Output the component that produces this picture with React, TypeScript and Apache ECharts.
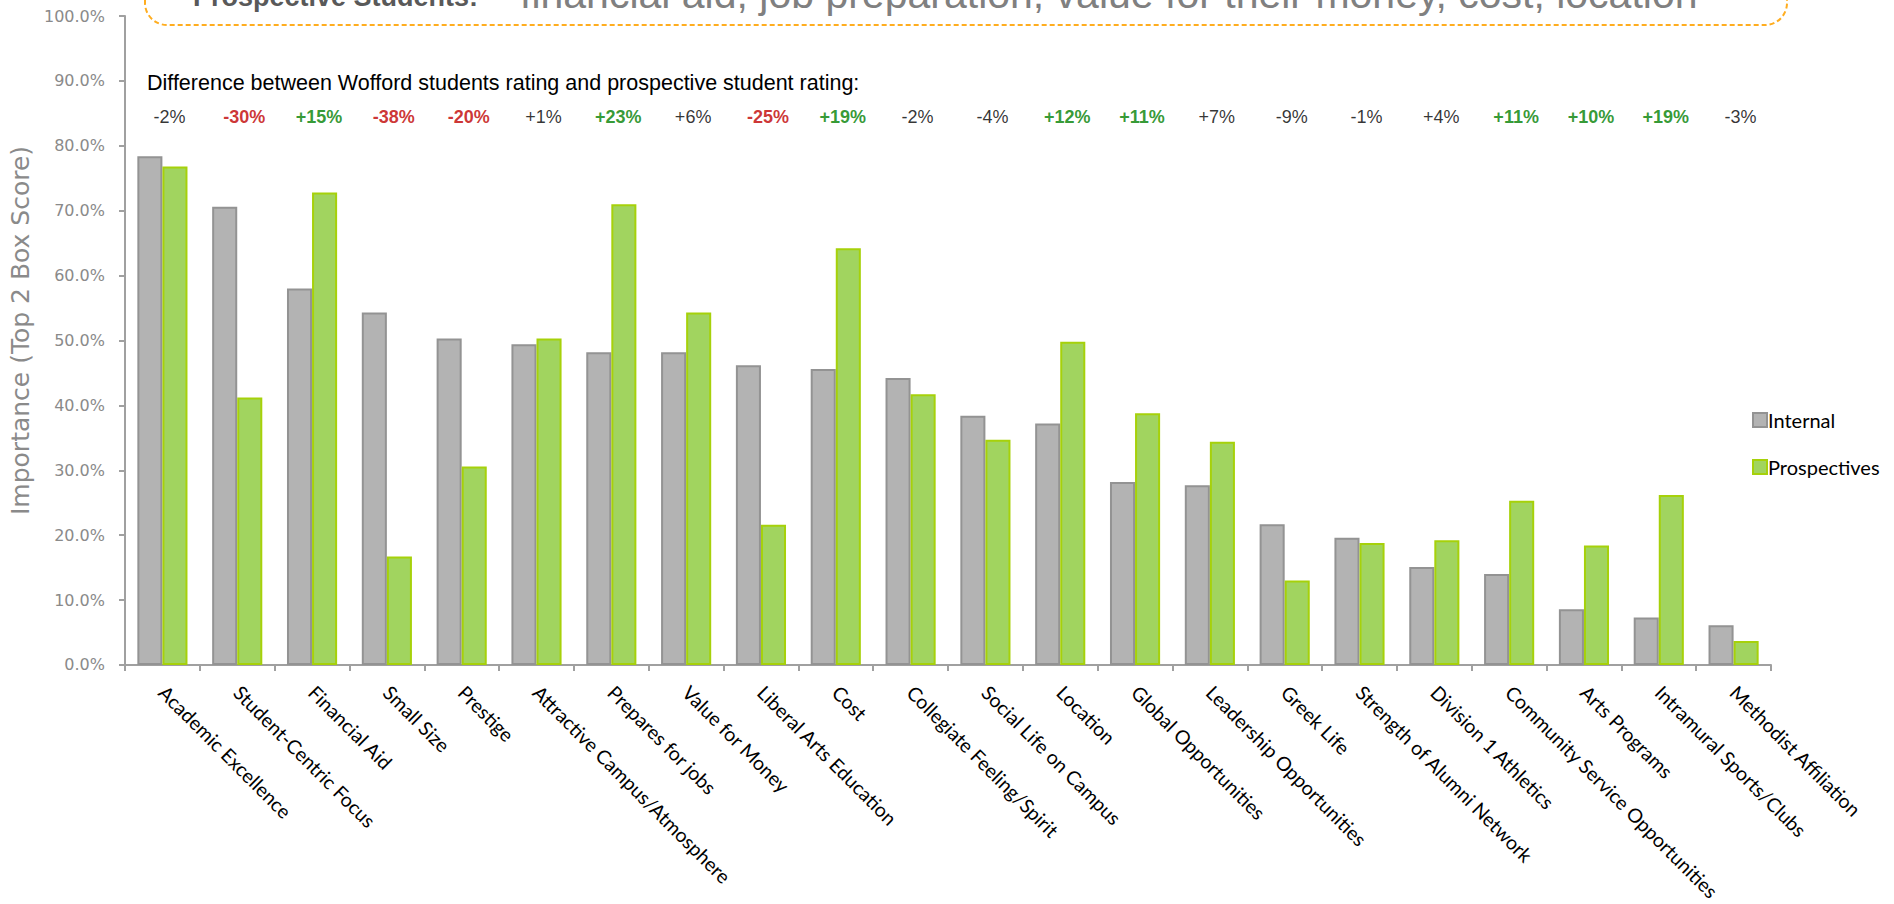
import { useEffect, useRef } from "react";
import * as echarts from "echarts";

const categories = [
  "Academic Excellence",
  "Student-Centric Focus",
  "Financial Aid",
  "Small Size",
  "Prestige",
  "Attractive Campus/Atmosphere",
  "Prepares for jobs",
  "Value for Money",
  "Liberal Arts Education",
  "Cost",
  "Collegiate Feeling/Spirit",
  "Social Life on Campus",
  "Location",
  "Global Opportunities",
  "Leadership Opportunities",
  "Greek Life",
  "Strength of Alumni Network",
  "Division 1 Athletics",
  "Community Service Opportunities",
  "Arts Programs",
  "Intramural Sports/Clubs",
  "Methodist Affiliation",
];

const internal = [
  78.4, 70.6, 58.0, 54.3, 50.3, 49.4, 48.2, 48.2, 46.2, 45.6, 44.2, 38.4, 37.2,
  28.2, 27.7, 21.7, 19.6, 15.1, 14.0, 8.6, 7.3, 6.1,
];

const prospectives = [
  76.8, 41.2, 72.8, 16.7, 30.6, 50.3, 71.0, 54.3, 21.6, 64.2, 41.7, 34.7, 49.8,
  38.8, 34.4, 13.0, 18.8, 19.2, 25.3, 18.4, 26.2, 3.7,
];

const differences = [
  -2, -30, 15, -38, -20, 1, 23, 6, -25, 19, -2, -4, 12, 11, 7, -9, -1, 4, 11, 10,
  19, -3,
];

const seriesNames = ["Internal", "Prospectives"];
const titleBold = "Prospective Students:";
const titleRest = "financial aid, job preparation, value for their money, cost, location";
const diffHeading =
  "Difference between Wofford students rating and prospective student rating:";

const DIFF_ROW = 84.5;

export default function App() {
  const ref = useRef<HTMLDivElement>(null);

  useEffect(() => {
    const chart = echarts.init(ref.current!, null, { renderer: "svg" });
    const narrow = "'Liberation Sans Narrow', 'Arial Narrow', 'Liberation Sans', Arial, sans-serif";
    chart.setOption({
      animation: false,
      backgroundColor: "#ffffff",
      grid: { left: 113, right: 123, top: 16, bottom: 235, containLabel: false },
      legend: {
        data: seriesNames,
        orient: "vertical",
        left: 1747,
        top: 405,
        itemWidth: 14,
        itemHeight: 14,
        itemGap: 27,
        icon: "rect",
        textStyle: { fontFamily: "Lato", fontSize: 20, color: "#000", padding: [0, 0, 0, -4] },
      },
      xAxis: {
        type: "category",
        data: categories,
        axisLine: { show: true, lineStyle: { color: "#a0a0a0", width: 2 } },
        axisTick: { show: true, length: 6, lineStyle: { color: "#a0a0a0", width: 2 } },
        axisLabel: {
          rotate: -45,
          interval: 0,
          margin: 24,
          color: "#000",
          fontFamily: "Lato",
          fontSize: 19.5,
        },
      },
      yAxis: {
        type: "value",
        min: 0,
        max: 100,
        interval: 10,
        name: "Importance (Top 2 Box Score)",
        nameLocation: "middle",
        nameGap: 92,
        nameTextStyle: {
          color: "#8a8a8a",
          fontFamily: "DejaVu Sans",
          fontSize: 25,
          padding: [0, 0, 0, 20],
        },
        splitLine: { show: false },
        axisLine: { show: true, lineStyle: { color: "#a0a0a0", width: 2 } },
        axisTick: { show: true, length: 6, lineStyle: { color: "#a0a0a0", width: 2 } },
        axisLabel: {
          color: "#8a8a8a",
          fontFamily: "DejaVu Sans",
          fontSize: 16,
          margin: 20,
          formatter: (v: number) => v.toFixed(1) + "%",
        },
      },
      series: [
        {
          name: seriesNames[0],
          type: "bar",
          data: internal,
          barGap: "0%",
          barCategoryGap: "33%",
          itemStyle: { color: "#b3b3b3", borderColor: "#939393", borderWidth: 2 },
        },
        {
          name: seriesNames[1],
          type: "bar",
          data: prospectives,
          itemStyle: { color: "#a1d45f", borderColor: "#a6d10a", borderWidth: 2 },
        },
        {
          name: "diff",
          type: "scatter",
          data: differences.map((_, i) => [i, DIFF_ROW]),
          symbol: "circle",
          symbolSize: 1,
          silent: true,
          itemStyle: { color: "rgba(0,0,0,0)" },
          label: {
            show: true,
            position: "inside",
            offset: [7, 0],
            formatter: (p: any) => {
              const d = differences[p.dataIndex];
              const s = (d > 0 ? "+" : "") + d + "%";
              const k = d >= 10 ? "g" : d <= -10 ? "r" : "n";
              return "{" + k + "|" + s + "}";
            },
            rich: {
              g: { color: "#008000", fontWeight: "bold", fontFamily: narrow, fontSize: 18 },
              r: { color: "#c00000", fontWeight: "bold", fontFamily: narrow, fontSize: 18 },
              n: { color: "#000000", fontFamily: narrow, fontSize: 18 },
            },
          },
        },
      ],
      graphic: [
        {
          type: "rect",
          shape: { x: 145, y: -50, width: 1642, height: 75, r: 22 },
          style: { fill: "none", stroke: "#ffad1f", lineWidth: 2, lineDash: [5, 3] },
          silent: true,
        },
        {
          type: "text",
          x: 193,
          y: -3,
          style: {
            text: titleBold,
            font: "bold 27px 'Liberation Sans', Arial, sans-serif",
            fill: "#595959",
            verticalAlign: "middle",
            align: "left",
          },
        },
        {
          type: "text",
          x: 520,
          y: -6,
          style: {
            text: titleRest,
            font: "41px 'Liberation Sans', Arial, sans-serif",
            fill: "#808080",
            verticalAlign: "middle",
            align: "left",
          },
        },
        {
          type: "text",
          x: 147,
          y: 83,
          style: {
            text: diffHeading,
            font: "21.5px " + narrow,
            fill: "#000",
            verticalAlign: "middle",
            align: "left",
          },
        },
      ],
    });
    return () => chart.dispose();
  }, []);

  return (
    <div
      ref={ref}
      style={{ position: "absolute", left: 0, top: 0, width: 1894, height: 904, background: "#fff" }}
    />
  );
}
